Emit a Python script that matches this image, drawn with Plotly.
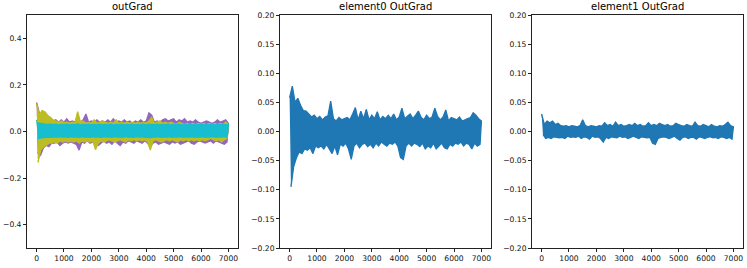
import numpy as np
import plotly.graph_objects as go

# ---------------- data (envelope readings, every 100 steps) ----------------
# panel 1: "outGrad" (several output series)
purple_up = [0.125, 0.08, 0.06, 0.07, 0.05, 0.06, 0.045, 0.05, 0.04, 0.05,
             0.04, 0.055, 0.04, 0.045, 0.04, 0.06, 0.04, 0.05, 0.075, 0.04,
             0.045, 0.04, 0.05, 0.04, 0.045, 0.04, 0.05, 0.04, 0.055, 0.04,
             0.045, 0.04, 0.05, 0.04, 0.045, 0.035, 0.045, 0.04, 0.05, 0.04,
             0.045, 0.08, 0.07, 0.04, 0.045, 0.04, 0.05, 0.055, 0.045, 0.05,
             0.055, 0.04, 0.05, 0.045, 0.055, 0.04, 0.045, 0.04, 0.05, 0.04,
             0.035, 0.04, 0.045, 0.04, 0.035, 0.04, 0.05, 0.04, 0.045, 0.05, 0.035]
purple_lo = [-0.115, -0.1, -0.07, -0.06, -0.065, -0.05, -0.05, -0.045, -0.06, -0.05,
             -0.045, -0.05, -0.045, -0.05, -0.055, -0.08, -0.045, -0.05, -0.04, -0.05,
             -0.045, -0.055, -0.06, -0.05, -0.04, -0.05, -0.045, -0.055, -0.04, -0.05,
             -0.06, -0.045, -0.05, -0.04, -0.045, -0.05, -0.04, -0.045, -0.05, -0.04,
             -0.05, -0.065, -0.05, -0.045, -0.055, -0.05, -0.045, -0.05, -0.055, -0.045,
             -0.05, -0.045, -0.055, -0.05, -0.045, -0.04, -0.05, -0.055, -0.045, -0.04,
             -0.045, -0.05, -0.045, -0.04, -0.05, -0.04, -0.045, -0.05, -0.055, -0.045]
olive_up = [0.12, 0.07, 0.09, 0.085, 0.07, 0.06, 0.05, 0.045, 0.04, 0.045,
            0.038, 0.04, 0.035, 0.04, 0.038, 0.085, 0.04, 0.045, 0.035, 0.04,
            0.035, 0.05, 0.035, 0.04, 0.045, 0.04, 0.035, 0.04, 0.035, 0.05,
            0.035, 0.04, 0.035, 0.04, 0.035, 0.04, 0.035, 0.04, 0.035, 0.04,
            0.035, 0.045, 0.06, 0.035, 0.04, 0.045, 0.035, 0.04, 0.035, 0.04,
            0.035, 0.03, 0.04, 0.035, 0.03, 0.035, 0.03, 0.035, 0.03, 0.035,
            0.03, 0.035, 0.03, 0.035, 0.03, 0.035, 0.03, 0.035, 0.03, 0.04, 0.03]
olive_lo = [-0.133, -0.08, -0.065, -0.06, -0.05, -0.05, -0.045, -0.05, -0.04, -0.045,
            -0.04, -0.045, -0.04, -0.045, -0.04, -0.05, -0.04, -0.045, -0.04, -0.045,
            -0.04, -0.078, -0.05, -0.04, -0.045, -0.04, -0.035, -0.04, -0.045, -0.04,
            -0.035, -0.04, -0.045, -0.035, -0.04, -0.035, -0.04, -0.035, -0.04, -0.035,
            -0.045, -0.08, -0.04, -0.035, -0.04, -0.045, -0.04, -0.035, -0.04, -0.035,
            -0.04, -0.045, -0.035, -0.04, -0.035, -0.04, -0.035, -0.04, -0.035, -0.04,
            -0.035, -0.04, -0.035, -0.03, -0.035, -0.04, -0.035, -0.045, -0.035, -0.03]
green_up = [0.05, 0.03, 0.025, 0.02, 0.022, 0.02, 0.018, 0.02, 0.019, 0.02,
            0.018, 0.02, 0.019, 0.018, 0.02, 0.022, 0.018, 0.02, 0.019, 0.018,
            0.02, 0.019, 0.018, 0.02, 0.019, 0.018, 0.02, 0.019, 0.018, 0.02,
            0.019, 0.018, 0.02, 0.019, 0.018, 0.02, 0.019, 0.018, 0.02, 0.019,
            0.018, 0.022, 0.02, 0.018, 0.02, 0.019, 0.018, 0.02, 0.019, 0.018,
            0.02, 0.019, 0.018, 0.02, 0.019, 0.018, 0.02, 0.019, 0.018, 0.02,
            0.019, 0.018, 0.02, 0.019, 0.018, 0.02, 0.019, 0.018, 0.02, 0.019, 0.018]
green_lo = [-0.095, -0.04, -0.03, -0.025, -0.022, -0.02, -0.022, -0.02, -0.021, -0.02,
            -0.022, -0.02, -0.021, -0.02, -0.022, -0.024, -0.02, -0.021, -0.02, -0.022,
            -0.02, -0.024, -0.022, -0.02, -0.021, -0.02, -0.022, -0.02, -0.021, -0.02,
            -0.022, -0.02, -0.021, -0.02, -0.022, -0.02, -0.021, -0.02, -0.022, -0.02,
            -0.022, -0.025, -0.02, -0.021, -0.02, -0.022, -0.02, -0.021, -0.02, -0.022,
            -0.02, -0.021, -0.02, -0.022, -0.02, -0.021, -0.02, -0.022, -0.02, -0.021,
            -0.02, -0.022, -0.02, -0.021, -0.02, -0.022, -0.02, -0.021, -0.02, -0.022]
cyan_up = [0.04, 0.035, 0.035, 0.032, 0.03, 0.032, 0.029, 0.031, 0.028, 0.03,
           0.029, 0.031, 0.028, 0.03, 0.029, 0.032, 0.028, 0.03, 0.029, 0.031,
           0.028, 0.03, 0.029, 0.031, 0.028, 0.03, 0.029, 0.031, 0.028, 0.03,
           0.029, 0.031, 0.028, 0.03, 0.029, 0.031, 0.028, 0.03, 0.029, 0.031,
           0.028, 0.033, 0.03, 0.029, 0.031, 0.028, 0.03, 0.029, 0.031, 0.028,
           0.03, 0.029, 0.031, 0.028, 0.03, 0.029, 0.031, 0.028, 0.03, 0.029,
           0.031, 0.028, 0.03, 0.029, 0.031, 0.028, 0.03, 0.029, 0.031, 0.028, 0.03]
cyan_lo = [-0.03, -0.028, -0.026, -0.025, -0.024, -0.025, -0.023, -0.024, -0.022, -0.024,
           -0.023, -0.025, -0.022, -0.024, -0.023, -0.025, -0.022, -0.024, -0.023, -0.025,
           -0.022, -0.024, -0.023, -0.025, -0.022, -0.024, -0.023, -0.025, -0.022, -0.024,
           -0.023, -0.025, -0.022, -0.024, -0.023, -0.025, -0.022, -0.024, -0.023, -0.025,
           -0.024, -0.027, -0.023, -0.024, -0.022, -0.025, -0.023, -0.024, -0.022, -0.025,
           -0.023, -0.024, -0.022, -0.025, -0.023, -0.024, -0.022, -0.025, -0.023, -0.024,
           -0.022, -0.025, -0.023, -0.024, -0.022, -0.025, -0.023, -0.024, -0.022, -0.025]

# panel 2: "element0 OutGrad"
e0_up = [0.058, 0.078, 0.05, 0.057, 0.045, 0.036, 0.035, 0.03, 0.025, 0.028,
         0.022, 0.026, 0.02, 0.025, 0.027, 0.052, 0.022, 0.018, 0.024, 0.02,
         0.022, 0.024, 0.02, 0.03, 0.041, 0.02, 0.035, 0.022, 0.038, 0.02,
         0.028, 0.022, 0.034, 0.02, 0.026, 0.022, 0.028, 0.022, 0.03, 0.02,
         0.025, 0.04, 0.022, 0.026, 0.03, 0.022, 0.028, 0.035, 0.024, 0.02,
         0.028, 0.022, 0.025, 0.04, 0.026, 0.02, 0.025, 0.037, 0.018, 0.024,
         0.022, 0.02, 0.025, 0.018, 0.02, 0.022, 0.024, 0.032, 0.028, 0.022, 0.018]
e0_lo = [-0.095, -0.06, -0.045, -0.035, -0.038, -0.03, -0.032, -0.028, -0.038, -0.025,
         -0.028, -0.025, -0.03, -0.022, -0.03, -0.038, -0.025, -0.04, -0.022, -0.025,
         -0.02, -0.03, -0.048, -0.025, -0.02, -0.028, -0.022, -0.02, -0.026, -0.022,
         -0.028, -0.02, -0.025, -0.018, -0.022, -0.025, -0.02, -0.022, -0.018, -0.025,
         -0.045, -0.048, -0.025, -0.02, -0.025, -0.02, -0.022, -0.026, -0.02, -0.03,
         -0.025, -0.028, -0.02, -0.03, -0.025, -0.02, -0.028, -0.03, -0.022, -0.025,
         -0.02, -0.022, -0.018, -0.025, -0.02, -0.022, -0.03, -0.02, -0.025, -0.022]

# panel 3: "element1 OutGrad"
e1_up = [0.03, 0.012, 0.018, 0.015, 0.018, 0.012, 0.014, 0.01, 0.009, 0.01,
         0.008, 0.01, 0.009, 0.008, 0.01, 0.02, 0.01, 0.008, 0.01, 0.009,
         0.008, 0.01, 0.009, 0.015, 0.01, 0.012, 0.009, 0.016, 0.01, 0.012,
         0.009, 0.01, 0.012, 0.01, 0.014, 0.01, 0.012, 0.009, 0.01, 0.015,
         0.01, 0.012, 0.01, 0.014, 0.012, 0.01, 0.012, 0.009, 0.01, 0.014,
         0.012, 0.01, 0.009, 0.012, 0.01, 0.009, 0.016, 0.01, 0.009, 0.012,
         0.01, 0.008, 0.012, 0.009, 0.008, 0.01, 0.009, 0.012, 0.016, 0.01, 0.008]
e1_lo = [-0.005, -0.012, -0.01, -0.012, -0.009, -0.01, -0.011, -0.01, -0.012, -0.008,
         -0.01, -0.009, -0.01, -0.008, -0.012, -0.009, -0.01, -0.013, -0.008, -0.01,
         -0.009, -0.012, -0.018, -0.01, -0.012, -0.009, -0.01, -0.011, -0.008, -0.01,
         -0.009, -0.012, -0.01, -0.008, -0.01, -0.012, -0.009, -0.01, -0.011, -0.01,
         -0.02, -0.022, -0.012, -0.01, -0.009, -0.01, -0.012, -0.01, -0.008, -0.012,
         -0.015, -0.01, -0.009, -0.012, -0.01, -0.01, -0.013, -0.009, -0.01, -0.012,
         -0.01, -0.009, -0.011, -0.01, -0.012, -0.009, -0.01, -0.012, -0.01, -0.013]

titles = ["outGrad", "element0 OutGrad", "element1 OutGrad"]
step = 100


def band(up, lo):
    """Closed outline: upper envelope left->right, lower envelope right->left."""
    xu = np.arange(len(up)) * step
    xl = np.arange(len(lo)) * step + step / 2
    x = np.concatenate([xu, xl[::-1]])
    y = list(up) + list(lo)[::-1]
    return x, y


def add_band(fig, up, lo, col, ax):
    x, y = band(up, lo)
    fig.add_trace(go.Scatter(x=x, y=y, mode="lines", fill="toself", fillcolor=col,
                             line=dict(color=col, width=1.3, simplify=False),
                             xaxis="x" + ax, yaxis="y" + ax,
                             showlegend=False, hoverinfo="skip"))


fig = go.Figure()
for up, lo, col in [(green_up, green_lo, "#2ca02c"),
                    (purple_up, purple_lo, "#9467bd"),
                    (olive_up, olive_lo, "#bcbd22"),
                    (cyan_up, cyan_lo, "#17becf")]:
    add_band(fig, up, lo, col, "")
add_band(fig, e0_up, e0_lo, "#1f77b4", "2")
add_band(fig, e1_up, e1_lo, "#1f77b4", "3")

W, H = 747, 268
xdoms = [(27, 238), (280, 491), (532, 743)]
ytop, ybot = 15, 248
ydom = [1 - ybot / H, 1 - ytop / H]

axis_common = dict(showline=True, linecolor="#222", linewidth=1, mirror=True,
                   ticks="outside", ticklen=3, tickwidth=0.8, tickcolor="#222",
                   showgrid=False, zeroline=False, automargin=False,
                   tickfont=dict(family="DejaVu Sans", size=7.6, color="#111"))

layout = dict(width=W, height=H, margin=dict(l=0, r=0, t=0, b=0),
              paper_bgcolor="white", plot_bgcolor="white", showlegend=False)
yranges = [[-0.5, 0.5], [-0.2, 0.2], [-0.2, 0.2]]
ydticks = [0.2, 0.05, 0.05]
yfmts = [".1f", ".2f", ".2f"]
annotations = []
for i in range(3):
    sfx = "" if i == 0 else str(i + 1)
    xd = [xdoms[i][0] / W, xdoms[i][1] / W]
    layout["xaxis" + sfx] = dict(domain=xd, range=[-350, 7350], tick0=0, dtick=1000,
                                 anchor="y" + sfx, **axis_common)
    layout["yaxis" + sfx] = dict(domain=ydom, range=yranges[i], tick0=0, dtick=ydticks[i],
                                 tickformat=yfmts[i], anchor="x" + sfx, **axis_common)
    annotations.append(dict(text=titles[i], x=(xd[0] + xd[1]) / 2, y=ydom[1],
                            xref="paper", yref="paper", xanchor="center", yanchor="bottom",
                            yshift=1, showarrow=False,
                            font=dict(family="DejaVu Sans", size=10, color="#000")))
layout["annotations"] = annotations
fig.update_layout(**layout)
fig.write_html("out.html")
